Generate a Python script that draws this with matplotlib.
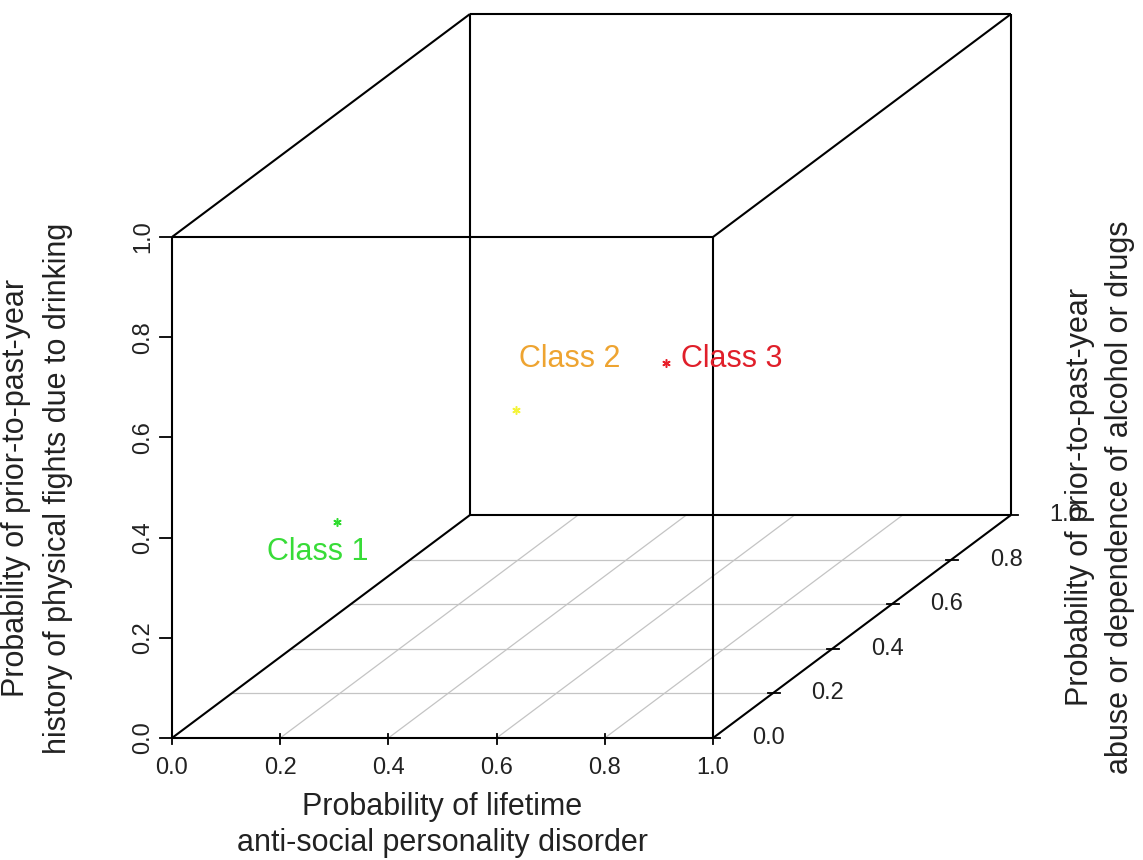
import matplotlib
matplotlib.use('Agg')
import matplotlib.pyplot as plt
import numpy as np

plt.rcParams['font.family'] = ['Liberation Sans', 'DejaVu Sans']

# --- data ---
classes = ['Class 1', 'Class 2', 'Class 3']
asp = [0.195, 0.36, 0.50]       # lifetime anti-social personality disorder (x)
abuse = [0.20, 0.50, 0.75]      # prior-to-past-year abuse/dependence (y, depth)
fights = [0.342, 0.432, 0.415]  # prior-to-past-year physical fights (z)
point_colors = ['#2fdc2f', '#f4f43a', '#e8202a']
label_colors = ['#38dc38', '#eea431', '#e01f2a']
ticks = [0.0, 0.2, 0.4, 0.6, 0.8, 1.0]
tick_labels = ['0.0', '0.2', '0.4', '0.6', '0.8', '1.0']

xlab = ['Probability of lifetime', 'anti-social personality disorder']
zlab = ['Probability of prior-to-past-year', 'history of physical fights due to drinking']
ylab = ['Probability of prior-to-past-year', 'abuse or dependence of alcohol or drugs']

# --- projection (scatterplot3d style oblique view) ---
W, H = 1143, 860
XU, ZU = 541.0, 501.0          # pixels per unit on front face
DX, DZ = 298 / XU, 223 / ZU    # depth shift per unit of y

def proj(x, y, z):
    return x + DX * np.asarray(y), z + DZ * np.asarray(y)

fig = plt.figure(figsize=(W / 100, H / 100), dpi=100)
ax = fig.add_axes([172 / W, 122 / H, XU / W, ZU / H])
ax.set_xlim(0, 1)
ax.set_ylim(0, 1)
ax.axis('off')

def line3d(p0, p1, **kw):
    a = proj(*p0)
    b = proj(*p1)
    ax.plot([a[0], b[0]], [a[1], b[1]], clip_on=False, solid_capstyle='butt', **kw)

box = dict(color='black', lw=1.5)
grid = dict(color='#c4c4c4', lw=0.9)

# floor grid
for t in ticks[1:-1]:
    line3d((0, t, 0), (1, t, 0), **grid)
    line3d((t, 0, 0), (t, 1, 0), **grid)

# cube edges
for y in (0, 1):
    line3d((0, y, 0), (1, y, 0), **box)
    line3d((0, y, 1), (1, y, 1), **box)
    line3d((0, y, 0), (0, y, 1), **box)
    line3d((1, y, 0), (1, y, 1), **box)
for x in (0, 1):
    for z in (0, 1):
        line3d((x, 0, z), (x, 1, z), **box)

# x axis ticks + labels
for t, lab in zip(ticks, tick_labels):
    ax.plot([t, t], [4 / ZU, -6 / ZU], color='black', lw=1.3, clip_on=False)
    ax.text(t, -30 / ZU, lab, fontsize=17, ha='center', va='center', color='#222222')

# z axis ticks + labels
for t, lab in zip(ticks, tick_labels):
    ax.plot([-12 / XU, 0], [t, t], color='black', lw=1.3, clip_on=False)
    ax.text(-29 / XU, t, lab, fontsize=17, ha='center', va='center',
            rotation=90, color='#222222')

# y axis ticks + labels
for t, lab in zip(ticks, tick_labels):
    px, pz = proj(1, t, 0)
    ax.plot([px - 5 / XU, px + 7 / XU], [pz, pz], color='black', lw=1.3, clip_on=False)
    ax.text(px + 55 / XU, pz, lab, fontsize=17, ha='center', va='center', color='#222222')

# axis titles
ax.text(0.5, -69 / ZU, xlab[0], fontsize=22, ha='center', va='center', color='#222222')
ax.text(0.5, -105 / ZU, xlab[1], fontsize=22, ha='center', va='center', color='#222222')
zc = (738 - 488) / ZU
ax.text(-156 / XU, zc, zlab[0], fontsize=22, ha='center', va='center', rotation=90, color='#222222')
ax.text(-114 / XU, zc, zlab[1], fontsize=22, ha='center', va='center', rotation=90, color='#222222')
yc = (738 - 497) / ZU
ax.text((1080 - 172) / XU, yc, ylab[0], fontsize=22, ha='center', va='center', rotation=90, color='#222222')
ax.text((1120 - 172) / XU, yc, ylab[1], fontsize=22, ha='center', va='center', rotation=90, color='#222222')

# points and class labels
px, pz = proj(np.array(asp), np.array(abuse), np.array(fights))
label_offsets = [(-19, -30, 'center'), (54, 51, 'center'), (15, 4, 'left')]
for i, name in enumerate(classes):
    ax.plot(px[i], pz[i], marker=(6, 2, 0), ms=6, mew=1.1, color=point_colors[i], clip_on=False)
    ox, oy, ha = label_offsets[i]
    ax.annotate(name, (px[i], pz[i]), xytext=(ox, oy), textcoords='offset pixels',
                fontsize=22, ha=ha, va='center', color=label_colors[i])

fig.savefig('out.png', dpi=100)
